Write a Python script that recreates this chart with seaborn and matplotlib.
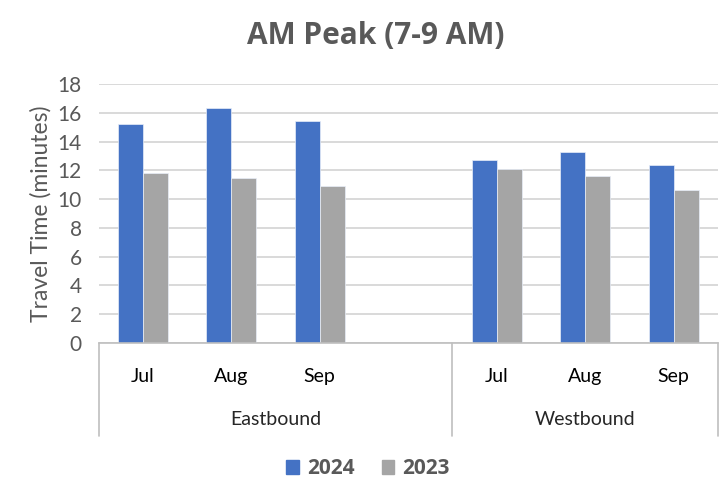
import seaborn as sns
import pandas as pd
import matplotlib.pyplot as plt

# chart values
directions = ["Eastbound", "Eastbound", "Eastbound", "Westbound", "Westbound", "Westbound"]
months = ["Jul", "Aug", "Sep", "Jul", "Aug", "Sep"]
time_2024 = [15.2, 16.3, 15.4, 12.7, 13.3, 12.4]
time_2023 = [11.8, 11.5, 10.9, 12.1, 11.6, 10.6]
years = ["2024", "2023"]
y_ticks = [0, 2, 4, 6, 8, 10, 12, 14, 16, 18]

# Eastbound has an empty fourth slot in the original Excel chart
slots = ["Eastbound|Jul", "Eastbound|Aug", "Eastbound|Sep", "Eastbound|",
         "Westbound|Jul", "Westbound|Aug", "Westbound|Sep"]

rows = []
for d, m, a, b in zip(directions, months, time_2024, time_2023):
    rows.append({"slot": f"{d}|{m}", "Year": "2024", "Time": a})
    rows.append({"slot": f"{d}|{m}", "Year": "2023", "Time": b})
df = pd.DataFrame(rows)

sns.set_style("white")
plt.rcParams['font.family'] = ['Lato', 'DejaVu Sans']
text_col = "#595959"
bold_font = ['Open Sans', 'DejaVu Sans']

fig = plt.figure(figsize=(7.19, 4.91), dpi=100)
ax = fig.add_axes([0.137, 0.3014, 0.8616, 0.5275])

sns.barplot(data=df, x="slot", y="Time", hue="Year", order=slots, hue_order=years,
            palette=["#4472C4", "#A5A5A5"], saturation=1, width=0.565, gap=0, ax=ax,
            edgecolor="#E8EEF8", linewidth=0.5, legend=False)

ax.set_ylim(0, 18)
ax.set_xlim(-0.5, len(slots) - 0.5)
ax.set_yticks(y_ticks)
ax.tick_params(axis="y", labelsize=15, colors=text_col, length=0, pad=12)
ax.yaxis.grid(True, color="#D9D9D9", lw=1.4)
ax.set_axisbelow(True)
ax.set_ylabel("Travel Time (minutes)", fontsize=16.5, color=text_col, labelpad=4)
for s in ["left", "right", "top"]:
    ax.spines[s].set_visible(False)
ax.spines["bottom"].set_color("#BFBFBF")
ax.spines["bottom"].set_linewidth(1.2)

# month labels on first level
pos = [i for i, s in enumerate(slots) if s.split("|")[1]]
ax.set_xticks(pos)
ax.set_xticklabels([slots[i].split("|")[1] for i in pos])
ax.tick_params(axis="x", labelsize=14, colors="black", length=0, pad=18)
ax.set_xlabel("")

# second level: direction names and separators
tr = ax.get_xaxis_transform()
for x in [-0.5, 3.5, 6.5]:
    ax.plot([x, x], [0, -0.36], transform=tr, color="#BFBFBF", lw=1.2, clip_on=False)
ax.text(1.5, -0.295, "Eastbound", transform=tr, ha="center", va="center", fontsize=14)
ax.text(5.0, -0.295, "Westbound", transform=tr, ha="center", va="center", fontsize=14)

fig.suptitle("AM Peak (7-9 AM)", x=0.522, y=0.957, fontsize=21.5, fontweight="bold",
             color=text_col, family=bold_font)

handles = [plt.Rectangle((0, 0), 1, 1, color=c) for c in ["#4472C4", "#A5A5A5"]]
leg = fig.legend(handles, years, loc="center", bbox_to_anchor=(0.512, 0.045), ncol=2,
                 frameon=False, handlelength=0.6, handleheight=0.7, handletextpad=0.4,
                 columnspacing=1.3, prop={"size": 15, "weight": "bold", "family": bold_font})
for t in leg.get_texts():
    t.set_color(text_col)

fig.savefig("out.png", dpi=100)
